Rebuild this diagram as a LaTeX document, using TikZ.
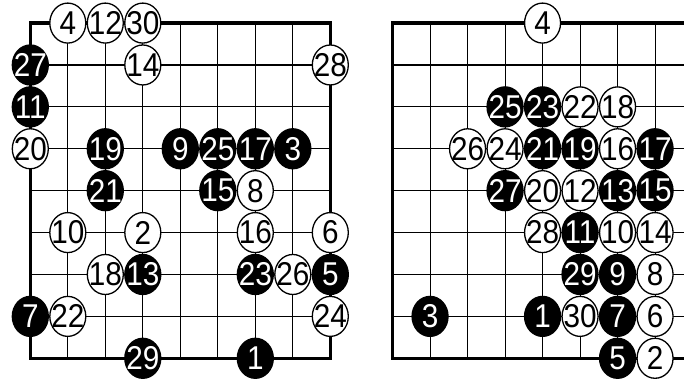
\documentclass[tikz,border=0pt]{standalone}
\usepackage{fontspec}
\newfontfamily\stonefont[FakeStretch=0.9]{Liberation Sans}
\usetikzlibrary{shapes}

\begin{document}
\begin{tikzpicture}[x=37.5pt, y=41.9pt,
    wstone/.style={ellipse, draw, line width=1.3pt, fill=white, minimum width=36pt, minimum height=40pt, inner xsep=-5pt, inner ysep=0pt, font=\stonefont\fontsize{33}{33}\selectfont},
    bstone/.style={wstone, fill=black, text=white},
    border/.style={line width=3.5pt},
    gridline/.style={line width=1.1pt, xstep=37.5pt, ystep=41.9pt}
]
\useasboundingbox (-0.808,-0.542) rectangle (17.432,8.551);

% First board
\draw[gridline] (0,0) grid (8,8);
\draw[border] (0,0) rectangle (8,8);

\node[wstone] (one4) at (1,8) {4};
\node[wstone] (one12) at (2,8) {12};
\node[wstone] (one30) at (3,8) {30};
\node[bstone] (one27) at (0,7) {27};
\node[wstone] (one14) at (3,7) {14};
\node[wstone] (one28) at (8,7) {28};
\node[bstone] (one11) at (0,6) {11};
\node[wstone] (one20) at (0,5) {20};
\node[bstone] (one19) at (2,5) {19};
\node[bstone] (one9) at (4,5) {9};
\node[bstone] (one25) at (5,5) {25};
\node[bstone] (one17) at (6,5) {17};
\node[bstone] (one3) at (7,5) {3};
\node[bstone] (one21) at (2,4) {21};
\node[bstone] (one15) at (5,4) {15};
\node[wstone] (one8) at (6,4) {8};
\node[wstone] (one10) at (1,3) {10};
\node[wstone] (one2) at (3,3) {2};
\node[wstone] (one16) at (6,3) {16};
\node[wstone] (one6) at (8,3) {6};
\node[wstone] (one18) at (2,2) {18};
\node[bstone] (one13) at (3,2) {13};
\node[bstone] (one23) at (6,2) {23};
\node[wstone] (one26) at (7,2) {26};
\node[bstone] (one5) at (8,2) {5};
\node[bstone] (one7) at (0,1) {7};
\node[wstone] (one22) at (1,1) {22};
\node[wstone] (one24) at (8,1) {24};
\node[bstone] (one29) at (3,0) {29};
\node[bstone] (one1) at (6,0) {1};

% Second board
\begin{scope}[shift={(9.66,0)}]
\draw[gridline] (0,0) grid (7.8,8);
\draw[border] (7.8,8) -- (0,8) -- (0,0) -- (7.8,0);

\node[wstone] (two4) at (4,8) {4};
\node[bstone] (two25) at (3,6) {25};
\node[bstone] (two23) at (4,6) {23};
\node[wstone] (two22) at (5,6) {22};
\node[wstone] (two18) at (6,6) {18};
\node[wstone] (two26) at (2,5) {26};
\node[wstone] (two24) at (3,5) {24};
\node[bstone] (two21) at (4,5) {21};
\node[bstone] (two19) at (5,5) {19};
\node[wstone] (two16) at (6,5) {16};
\node[bstone] (two17) at (7,5) {17};
\node[bstone] (two27) at (3,4) {27};
\node[wstone] (two20) at (4,4) {20};
\node[wstone] (two12) at (5,4) {12};
\node[bstone] (two13) at (6,4) {13};
\node[bstone] (two15) at (7,4) {15};
\node[wstone] (two28) at (4,3) {28};
\node[bstone] (two11) at (5,3) {11};
\node[wstone] (two10) at (6,3) {10};
\node[wstone] (two14) at (7,3) {14};
\node[bstone] (two29) at (5,2) {29};
\node[bstone] (two9) at (6,2) {9};
\node[wstone] (two8) at (7,2) {8};
\node[bstone] (two3) at (1,1) {3};
\node[bstone] (two1) at (4,1) {1};
\node[wstone] (two30) at (5,1) {30};
\node[bstone] (two7) at (6,1) {7};
\node[wstone] (two6) at (7,1) {6};
\node[bstone] (two5) at (6,0) {5};
\node[wstone] (two2) at (7,0) {2};
\end{scope}

\end{tikzpicture}
\end{document}
